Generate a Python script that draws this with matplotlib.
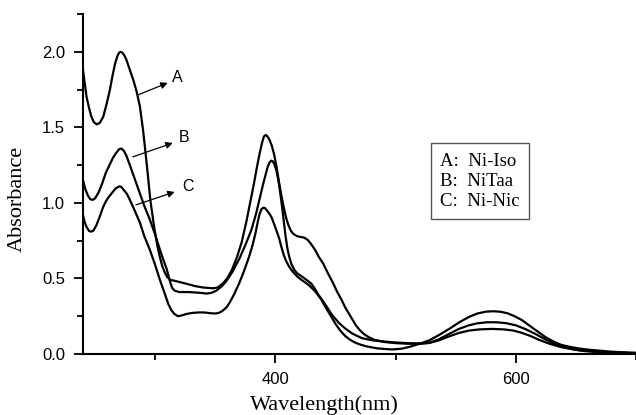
import matplotlib
matplotlib.use("Agg")
import matplotlib.pyplot as plt
from matplotlib.ticker import MultipleLocator

# curve A: Ni-Iso
wl_a = [240, 241.5, 243, 245, 247, 249, 251.4, 254, 256.8, 259.5, 262.4, 264.5,
        266.6, 268.5, 270, 271.3, 272.8, 274.5, 276, 279, 282, 284.5, 287.3,
        290, 293, 296, 299, 302, 304, 306, 308, 310, 313, 316, 321, 326, 333,
        340, 348, 352, 356, 360, 364, 368, 372, 376, 379, 382, 385, 387, 389,
        390.5, 392, 393.5, 395, 397, 399, 401, 403, 405, 407, 409, 411, 413,
        415, 418, 421, 424, 427, 430, 433, 436, 439.7, 444, 448, 451.5, 455,
        458, 461, 464, 467, 470, 474, 478, 482, 490, 500, 510, 520, 528, 536,
        545, 553, 561, 568, 576, 584, 592, 600, 608, 617, 625, 633, 640, 648,
        656, 670, 685, 700]
abs_a = [1.88, 1.79, 1.70, 1.63, 1.57, 1.535, 1.52, 1.53, 1.57, 1.65, 1.75,
         1.84, 1.92, 1.97, 1.995, 2.00, 1.995, 1.975, 1.95, 1.88, 1.81, 1.74,
         1.64, 1.48, 1.26, 1.02, 0.85, 0.71, 0.64, 0.58, 0.54, 0.51, 0.49,
         0.485, 0.475, 0.465, 0.45, 0.44, 0.435, 0.44, 0.465, 0.50, 0.56, 0.64,
         0.74, 0.88, 1.00, 1.12, 1.25, 1.33, 1.40, 1.44, 1.45, 1.44, 1.42, 1.38,
         1.32, 1.24, 1.14, 1.05, 0.97, 0.90, 0.85, 0.815, 0.795, 0.78, 0.775,
         0.77, 0.755, 0.725, 0.69, 0.645, 0.60, 0.53, 0.47, 0.41, 0.36, 0.31,
         0.27, 0.23, 0.19, 0.16, 0.13, 0.11, 0.095, 0.08, 0.072, 0.068, 0.068,
         0.074, 0.097, 0.135, 0.167, 0.19, 0.203, 0.21, 0.21, 0.204, 0.19,
         0.165, 0.13, 0.095, 0.065, 0.045, 0.03, 0.02, 0.012, 0.007, 0.005]

# curve B: NiTaa
wl_b = [240, 242, 244, 246, 248, 250, 253, 256, 259, 262, 265, 267.5, 270, 272,
        274, 276, 279, 283, 287, 291, 295.6, 300, 304, 307, 309.7, 312, 314,
        316, 320, 328, 337, 343, 347, 351, 355, 359, 364, 370, 375, 380, 384,
        387, 390, 392, 393.5, 395, 396.5, 398, 399.5, 401, 402.5, 404, 405.5,
        407, 408.5, 410, 411.5, 413.4, 415.5, 418, 421.7, 426, 430, 433, 436,
        439.7, 443, 447, 453, 458, 464, 472, 481, 490, 497, 505, 515, 522, 528,
        536, 545, 553, 561, 570, 580, 590, 598, 605, 612, 619, 628, 638, 650,
        666, 685, 700]
abs_b = [1.15, 1.09, 1.05, 1.025, 1.02, 1.03, 1.07, 1.13, 1.20, 1.25, 1.30,
         1.33, 1.355, 1.36, 1.345, 1.315, 1.25, 1.16, 1.07, 0.98, 0.89, 0.79,
         0.69, 0.62, 0.56, 0.49, 0.44, 0.42, 0.41, 0.41, 0.405, 0.40, 0.405,
         0.42, 0.445, 0.48, 0.54, 0.63, 0.72, 0.82, 0.93, 1.03, 1.13, 1.19,
         1.235, 1.265, 1.28, 1.275, 1.25, 1.21, 1.15, 1.07, 0.98, 0.88, 0.78,
         0.70, 0.645, 0.595, 0.56, 0.535, 0.515, 0.49, 0.465, 0.43, 0.39, 0.35,
         0.31, 0.26, 0.205, 0.17, 0.135, 0.105, 0.09, 0.083, 0.078, 0.074,
         0.07, 0.07, 0.073, 0.09, 0.118, 0.14, 0.155, 0.163, 0.166, 0.163,
         0.155, 0.14, 0.12, 0.095, 0.068, 0.045, 0.028, 0.015, 0.008, 0.005]

# curve C: Ni-Nic
wl_c = [240, 241.5, 243, 245, 246.6, 248.5, 251, 254, 256.6, 259, 261, 263,
        265, 267, 269, 270.4, 272, 274, 276.5, 279, 283, 287.3, 291, 295.6,
        300, 304, 308, 311, 313.5, 316, 319, 322, 326, 331, 336, 341, 346, 350,
        353, 356, 359.5, 362, 366, 370, 374, 378, 381, 383.5, 385.5, 387, 388.5,
        390, 391.5, 393, 395, 396.8, 399, 401, 403, 405, 407, 409, 411, 413,
        415, 418, 421, 424, 428, 432.5, 435.5, 438.3, 441, 444, 447, 450, 454,
        458, 462, 466, 470, 476, 485, 497, 505, 512, 520, 528, 536, 545, 553,
        561, 568, 575, 581, 587, 593, 599, 605, 611, 618, 625, 632, 638, 645,
        653, 661, 680, 700]
abs_c = [0.92, 0.87, 0.84, 0.815, 0.81, 0.815, 0.85, 0.91, 0.97, 1.01, 1.035,
         1.055, 1.075, 1.095, 1.105, 1.11, 1.105, 1.085, 1.06, 1.02, 0.95, 0.87,
         0.78, 0.69, 0.59, 0.49, 0.40, 0.33, 0.29, 0.265, 0.25, 0.255, 0.265,
         0.272, 0.275, 0.275, 0.27, 0.268, 0.272, 0.285, 0.31, 0.34, 0.40, 0.47,
         0.55, 0.64, 0.72, 0.80, 0.88, 0.93, 0.96, 0.968, 0.965, 0.95, 0.93,
         0.905, 0.86, 0.815, 0.77, 0.71, 0.655, 0.615, 0.585, 0.56, 0.54, 0.515,
         0.495, 0.478, 0.455, 0.42, 0.39, 0.36, 0.32, 0.28, 0.24, 0.20, 0.155,
         0.12, 0.095, 0.077, 0.064, 0.05, 0.037, 0.03, 0.035, 0.048, 0.068,
         0.09, 0.125, 0.168, 0.21, 0.245, 0.268, 0.28, 0.283, 0.28, 0.27, 0.25,
         0.225, 0.19, 0.15, 0.11, 0.08, 0.06, 0.047, 0.036, 0.028, 0.015, 0.008]

names = ["A:  Ni-Iso", "B:  NiTaa", "C:  Ni-Nic"]

fig = plt.figure(figsize=(6.36, 4.15), dpi=100)
ax = fig.add_axes([0.1305, 0.147, 0.8695, 0.819])

for wl, ab in [(wl_a, abs_a), (wl_b, abs_b), (wl_c, abs_c)]:
    ax.plot(wl, ab, color="black", lw=1.6, solid_joinstyle="round")

ax.set_xlim(240, 700)
ax.set_ylim(0, 2.25)
ax.spines["top"].set_visible(False)
ax.spines["right"].set_visible(False)
ax.spines["left"].set_linewidth(1.5)
ax.spines["bottom"].set_linewidth(1.5)

ax.xaxis.set_major_locator(MultipleLocator(200))
ax.xaxis.set_minor_locator(MultipleLocator(100))
ax.yaxis.set_major_locator(MultipleLocator(0.5))
ax.yaxis.set_minor_locator(MultipleLocator(0.25))
ax.yaxis.set_major_formatter(plt.FormatStrFormatter("%.1f"))
ax.tick_params(which="major", direction="out", length=6.5, width=1.3,
               labelsize=12, pad=6.5)
ax.tick_params(which="minor", direction="out", length=4.5, width=1.3)
for lab in ax.get_xticklabels() + ax.get_yticklabels():
    lab.set_family("Liberation Sans")

serif = "Liberation Serif"
ax.set_xlabel("Wavelength(nm)", family=serif, fontsize=16)
ax.set_ylabel("Absorbance", family=serif, fontsize=16)
ax.xaxis.set_label_coords(0.4367, -0.12)
ax.yaxis.set_label_coords(-0.101, 0.456)

# arrows pointing at each curve
arrows = [((285.6, 1.715), (310.5, 1.795), (318.8, 1.83), "A"),
          ((281.5, 1.305), (314.7, 1.397), (323.8, 1.43), "B"),
          ((284.0, 0.987), (316.3, 1.073), (327.0, 1.11), "C")]
for tail, head, pos, lab in arrows:
    ax.annotate("", xy=head, xytext=tail,
                arrowprops=dict(arrowstyle="-|>", color="black", lw=0.9,
                                mutation_scale=10, shrinkA=0, shrinkB=0))
    ax.text(pos[0], pos[1], lab, family="Liberation Sans", fontsize=11.5,
            ha="center", va="center")

ax.text(0.6456, 0.592, "\n".join(names), transform=ax.transAxes,
        family=serif, fontsize=13.5, va="top", ha="left", linespacing=1.22,
        bbox=dict(boxstyle="square,pad=0.5", fc="white", ec="#555555",
                  lw=1.0))

fig.savefig("out.png", dpi=100)
